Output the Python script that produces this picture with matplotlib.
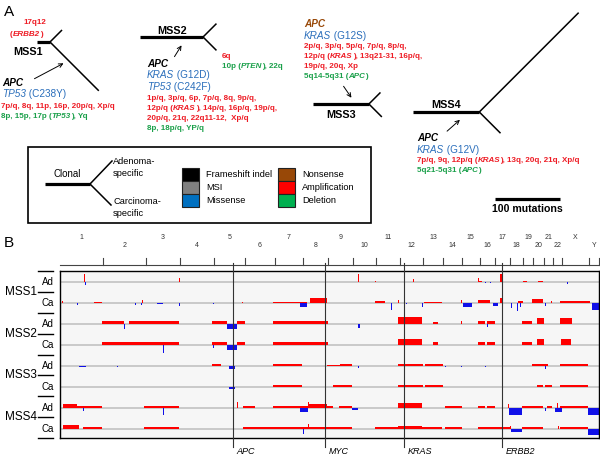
import numpy as np
import matplotlib.pyplot as plt
from matplotlib.patches import Rectangle
from matplotlib.transforms import blended_transform_factory

plt.rcParams['font.family'] = ['Liberation Sans', 'DejaVu Sans']

RED = '#ee1c25'
BLUE = '#2a6ebb'
GREEN = '#1aa04a'
BROWN = '#984807'

# ---- panel A: phylogenetic trees (branch lengths in mutations)
tree_names = ['MSS1', 'MSS2', 'MSS3', 'MSS4']
trunk_len = [20, 97, 86, 102]
adenoma_len = [25, 28, 24, 215]
carcinoma_len = [105, 28, 27, 45]

# ---- panel B: genome (hg19, Mb)
chrom_names = [str(i) for i in range(1, 23)] + ['X', 'Y']
chrom_len = [249, 243, 198, 191, 181, 171, 159, 146, 141, 136, 135, 134,
             115, 107, 103, 90, 81, 78, 59, 63, 48, 51, 155, 59]
genes = ['APC', 'MYC', 'KRAS', 'ERBB2']
gene_chrom = ['5', '8', '12', '17']
gene_pos = [112.1, 128.7, 25.4, 37.8]

row_labels = ['Ad', 'Ca'] * 4

# copy-number segments: (genome start Mb, genome end Mb, level); level > 0 gain, < 0 loss
mss1_ad = [(136, 141, 0.8), (142, 147, -0.3), (681, 686, 0.4), (1709, 1714, 0.8),
           (1808, 1813, 0.1), (2025, 2031, 0.3), (2400, 2405, 0.4), (2405, 2423, 0.15),
           (2438, 2443, -0.1), (2467, 2472, -0.1), (2526, 2538, 0.8), (2659, 2681, 0.15),
           (2745, 2773, 0.15), (2909, 2914, -0.2)]
mss1_ca = [(11, 16, 0.2), (98, 103, -0.2), (195, 241, 0.15), (431, 436, -0.2),
           (465, 471, -0.15), (471, 477, 0.3), (557, 591, -0.1), (681, 686, -0.3),
           (877, 882, -0.1), (1045, 1050, 0.15), (1223, 1378, 0.15), (1378, 1418, 0.15),
           (1378, 1418, -0.4), (1436, 1533, 0.5), (1809, 1866, 0.2), (1899, 1904, -0.7),
           (1939, 1944, 0.3), (1985, 1993, -0.1), (2077, 2083, -0.4), (2090, 2193, 0.15),
           (2301, 2306, 0.3), (2314, 2366, -0.4), (2400, 2469, 0.3), (2486, 2515, -0.3),
           (2526, 2544, 0.5), (2588, 2593, -0.5), (2622, 2627, -0.8), (2639, 2644, -0.4),
           (2630, 2659, 0.2), (2710, 2773, 0.4), (2783, 2788, -0.3), (2817, 2822, 0.2),
           (2871, 3043, 0.25), (3055, 3093, -0.7)]
mss2_ad = [(241, 367, 0.3), (365, 371, -0.5), (396, 683, 0.3), (873, 959, 0.3),
           (959, 1016, -0.5), (1016, 1062, 0.3), (1223, 1538, 0.3), (1711, 1723, -0.4),
           (1941, 2079, 0.7), (2142, 2170, 0.2), (2301, 2306, 0.3), (2400, 2440, 0.3),
           (2452, 2498, 0.3), (2450, 2455, -0.3), (2653, 2710, 0.3), (2739, 2779, 0.6),
           (2871, 2940, 0.6)]
mss2_ca = [(241, 683, 0.3), (589, 594, -0.8), (873, 959, 0.3), (877, 882, -0.3),
           (959, 1016, -0.45), (1016, 1062, 0.3), (1223, 1538, 0.3), (1941, 2079, 0.6),
           (2142, 2170, 0.3), (2400, 2440, 0.3), (2452, 2498, 0.3), (2653, 2710, 0.3),
           (2739, 2779, 0.6), (2877, 2934, 0.6)]
mss3_ad = [(109, 149, -0.1), (325, 331, -0.15), (873, 924, 0.15), (970, 1005, -0.3),
           (1223, 1390, 0.15), (1533, 1608, 0.1), (1608, 1677, 0.2), (1709, 1714, -0.25),
           (1941, 2084, 0.15), (2096, 2199, 0.2), (2209, 2214, -0.1), (2301, 2306, -0.1),
           (2438, 2443, -0.1), (2710, 2756, 0.15), (2756, 2802, 0.2), (2783, 2788, -0.3),
           (2871, 3032, 0.2)]
mss3_ca = [(970, 1005, -0.2), (1223, 1390, 0.15), (1568, 1677, 0.15), (1941, 2084, 0.15),
           (2096, 2199, 0.15), (2739, 2773, 0.15), (2785, 2825, 0.15), (2871, 3032, 0.15)]
mss4_ad = [(0, 5, -0.2), (17, 98, 0.4), (98, 241, 0.2), (130, 135, -0.3),
           (482, 683, 0.2), (589, 594, -0.7), (1014, 1019, 0.6), (1051, 1120, 0.15),
           (1223, 1378, 0.2), (1378, 1424, 0.2), (1378, 1424, -0.4), (1422, 1427, 0.6),
           (1427, 1533, 0.4), (1533, 1568, 0.2), (1602, 1677, 0.2), (1677, 1711, -0.2),
           (1941, 2079, 0.5), (2211, 2309, 0.2), (2400, 2440, 0.2), (2452, 2498, 0.2),
           (2570, 2575, 0.4), (2578, 2653, -0.7), (2653, 2773, 0.2), (2783, 2788, -0.3),
           (2796, 2825, 0.2), (2852, 2857, 0.5), (2842, 2883, -0.4), (2871, 3032, 0.2),
           (3032, 3093, -0.7)]
mss4_ca = [(17, 109, 0.35), (132, 241, 0.2), (482, 683, 0.2), (1051, 1378, 0.2),
           (1378, 1424, 0.2), (1393, 1398, -0.5), (1422, 1427, 0.5), (1427, 1677, 0.2),
           (1520, 1525, -0.3), (1809, 1941, 0.15), (1941, 2079, 0.3), (2079, 2193, 0.2),
           (2211, 2309, 0.2), (2400, 2584, 0.15), (2582, 2587, 0.3), (2590, 2653, -0.3),
           (2653, 2773, 0.2), (2858, 2863, 0.3), (2871, 3032, 0.2), (3032, 3093, -0.6)]
rows = [mss1_ad, mss1_ca, mss2_ad, mss2_ca, mss3_ad, mss3_ca, mss4_ad, mss4_ca]

fig = plt.figure(figsize=(6, 4.55), dpi=100)

# ================= panel B
axB = fig.add_axes([60 / 600, 17 / 455, 539 / 600, 167 / 455])
total = sum(chrom_len)
ends = np.cumsum(chrom_len)
starts = ends - np.array(chrom_len)
axB.set_xlim(0, total)
axB.set_ylim(len(rows), 0)
axB.set_facecolor('#f6f6f6')
axB.set_xticks([])
axB.set_yticks([])
for sp in axB.spines.values():
    sp.set_linewidth(1.0)

k = 10 / (167 / 8)  # level 1.0 -> 10 px
for r, segs in enumerate(rows):
    base = r + 0.55
    axB.axhline(base, color='#c9c9c9', lw=1.4, zorder=1)
    s = np.array(segs, dtype=float)
    cols = [RED if v > 0 else '#1010e8' for v in s[:, 2]]
    cols = ['#ff0000' if v > 0 else '#1010e8' for v in s[:, 2]]
    axB.bar(s[:, 0], -s[:, 2] * k, width=np.maximum(s[:, 1] - s[:, 0], 5),
            bottom=base, align='edge', color=cols, lw=0, zorder=2)

tr = blended_transform_factory(axB.transData, axB.transAxes)
axB.plot([0, total], [1.036, 1.036], transform=tr, clip_on=False, color='#444', lw=0.8)
for e in ends:
    axB.plot([e, e], [1.036, 1.078], transform=tr, clip_on=False, color='#444', lw=0.8)
for i, name in enumerate(chrom_names):
    yy = 1.2 if i % 2 == 0 else 1.155
    axB.text(starts[i] + chrom_len[i] / 2, yy, name, transform=tr, ha='center',
             va='center', fontsize=5, color='#333')

for g, c, p in zip(genes, gene_chrom, gene_pos):
    gx = starts[chrom_names.index(c)] + p
    axB.plot([gx, gx], [-0.055, 1.05], transform=tr, clip_on=False, color='#333',
             lw=0.8, zorder=3)
    axB.text(gx + 22, -0.078, g, transform=tr, fontsize=6.5, fontstyle='italic',
             ha='left', va='center')

tl = blended_transform_factory(axB.transAxes, axB.transData)
for r, lab in enumerate(row_labels):
    axB.text(-0.012, r + 0.55, lab, transform=tl, ha='right', va='center', fontsize=7)
for b in range(len(rows) + 1):
    axB.plot([-0.041, -0.013], [b, b], transform=tl, clip_on=False, color='black', lw=1.0)
for i, name in enumerate(tree_names):
    axB.text(-0.102, 2 * i + 1, name, transform=tl, ha='left', va='center', fontsize=8.5)

# ================= panel A (pixel coordinates)
ax = fig.add_axes([0, 0, 1, 1])
ax.set_xlim(0, 600)
ax.set_ylim(455, 0)
ax.axis('off')
ax.patch.set_alpha(0)

ax.text(4, 12, 'A', fontsize=11, va='center')
ax.text(4, 243, 'B', fontsize=11, va='center')


def rich(x, y, markup, color, size=5.8, weight='bold'):
    # text between * * is italic
    t = None
    for j, s in enumerate(markup.split('*')):
        if not s:
            continue
        style = 'italic' if j % 2 else 'normal'
        kw = dict(color=color, fontsize=size, fontweight=weight, fontstyle=style, ha='left')
        if t is None:
            t = ax.text(x, y, s, va='center', **kw)
        else:
            t = ax.annotate(s, xy=(1, 0), xycoords=t, va='bottom', **kw)


scale = 0.65  # px per mutation
anchors = [(37, 42), (140, 37), (313, 104), (413, 112)]
label_pos = [(13, 52), (157, 31), (326, 115), (431, 105)]
for i, name in enumerate(tree_names):
    x0, y0 = anchors[i]
    x1 = x0 + trunk_len[i] * scale
    ax.plot([x0, x1], [y0, y0], color='black', lw=2.3, solid_capstyle='butt')
    da = adenoma_len[i] * scale / np.sqrt(2)
    dc = carcinoma_len[i] * scale / np.sqrt(2)
    ax.plot([x1, x1 + da], [y0, y0 - da], color='black', lw=1.1)
    ax.plot([x1, x1 + dc], [y0, y0 + dc], color='black', lw=1.1)
    ax.text(*label_pos[i], name, fontsize=7.8, fontweight='bold', va='center')

arrows = [((32, 80), (66, 62)), ((173, 59), (183, 43)), ((342, 84), (353, 100)),
          ((445, 133), (462, 118))]
for a, b in arrows:
    ax.annotate('', xy=b, xytext=a,
                arrowprops=dict(arrowstyle='->', lw=0.7, color='black', mutation_scale=7))

# MSS1
ax.text(35, 23, '17q12', color=RED, fontsize=5.8, fontweight='bold', ha='center', va='center')
rich(10, 34, '(*ERBB2*)', RED)
rich(2, 83, '*APC*', 'black', 7.2)
rich(2, 94, '*TP53* (C238Y)', BLUE, 7.2, 'normal')
rich(1, 106, '7p/q, 8q, 11p, 16p, 20p/q, Xp/q', RED)
rich(1, 116, '8p, 15p, 17p (*TP53*), Yq', GREEN)
# MSS2
rich(222, 56, '6q', RED)
rich(222, 66, '10p (*PTEN*), 22q', GREEN)
rich(147, 64, '*APC*', 'black', 7.2)
rich(147, 75, '*KRAS* (G12D)', BLUE, 7.2, 'normal')
rich(147, 87, '*TP53* (C242F)', BLUE, 7.2, 'normal')
rich(147, 99, '1p/q, 3p/q, 6p, 7p/q, 8q, 9p/q,', RED)
rich(147, 109, '12p/q (*KRAS*), 14p/q, 16p/q, 19p/q,', RED)
rich(147, 118, '20p/q, 21q, 22q11-12,  Xp/q', RED)
rich(147, 128, '8p, 18p/q, YP/q', GREEN)
# MSS3
rich(304, 24, '*APC*', BROWN, 7.2)
rich(304, 36, '*KRAS* (G12S)', BLUE, 7.2, 'normal')
rich(304, 47, '2p/q, 3p/q, 5p/q, 7p/q, 8p/q,', RED)
rich(304, 57, '12p/q (*KRAS*), 13q21-31, 16p/q,', RED)
rich(304, 67, '19p/q, 20q, Xp', RED)
rich(304, 77, '5q14-5q31 (*APC*)', GREEN)
# MSS4
rich(417, 138, '*APC*', 'black', 7.2)
rich(417, 150, '*KRAS* (G12V)', BLUE, 7.2, 'normal')
rich(417, 161, '7p/q, 9q, 12p/q (*KRAS*), 13q, 20q, 21q, Xp/q', RED)
rich(417, 171, '5q21-5q31 (*APC*)', GREEN)

# scale bar
ax.plot([495, 495 + 100 * scale], [199, 199], color='black', lw=2.3, solid_capstyle='butt')
ax.text(495 + 50 * scale, 209, '100 mutations', fontsize=7.6, fontweight='bold',
        ha='center', va='center')

# legend
ax.add_patch(Rectangle((28, 147), 343, 76, fill=False, lw=1.2, ec='black'))
ax.plot([45, 90], [184, 184], color='black', lw=2.3, solid_capstyle='butt')
ax.plot([90, 112], [184, 161], color='black', lw=1.1)
ax.plot([90, 111], [184, 205], color='black', lw=1.1)
ax.text(67, 174, 'Clonal', fontsize=7, ha='center', va='center')
ax.text(113, 162, 'Adenoma-', fontsize=6.7, va='center')
ax.text(113, 173, 'specific', fontsize=6.7, va='center')
ax.text(113, 202, 'Carcinoma-', fontsize=6.7, va='center')
ax.text(113, 213, 'specific', fontsize=6.7, va='center')

legend_labels = ['Frameshift indel', 'MSI', 'Missense', 'Nonsense', 'Amplification', 'Deletion']
legend_colors = ['#000000', '#808080', '#0070c0', '#984807', '#ff0000', '#00b050']
for i, (lab, col) in enumerate(zip(legend_labels, legend_colors)):
    cx = 182 if i < 3 else 278
    cy = 168 + 13 * (i % 3)
    ax.add_patch(Rectangle((cx, cy), 17, 13, fc=col, ec='#222', lw=0.8))
    ax.text(cx + 24, cy + 6.5, lab, fontsize=6.7, va='center')

fig.savefig('out.png', dpi=100)
